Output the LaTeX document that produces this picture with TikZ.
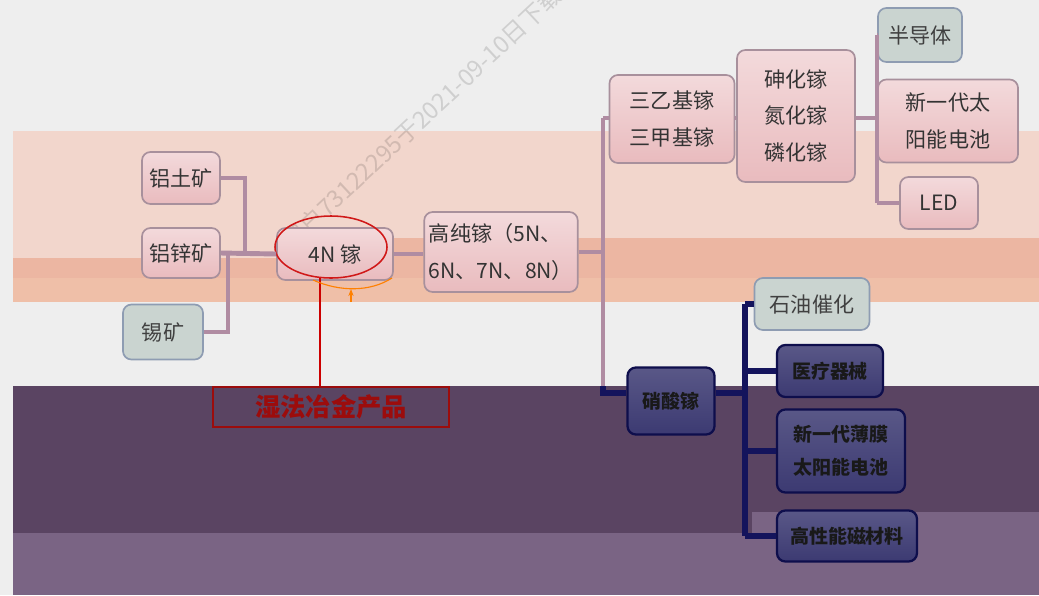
\documentclass[tikz,border=0pt]{standalone}
\usepackage{fontspec}
\usepackage{tikz}
\usetikzlibrary{shapes.geometric,arrows.meta}
\newfontfamily\cjk{Noto Sans CJK SC}
\definecolor{bgGrey}{HTML}{EEEEEE}
\definecolor{bandPink}{HTML}{F2D6CC}
\definecolor{bandSalmon}{HTML}{ECB6A2}
\definecolor{bandPeach}{HTML}{EFBFA8}
\definecolor{bandPlum}{HTML}{5A4462}
\definecolor{bandLilac}{HTML}{7A6484}
\definecolor{linkMauve}{HTML}{B08CA2}
\definecolor{linkNavy}{HTML}{14145C}
\definecolor{boxPink}{HTML}{E9BBBE}
\definecolor{boxEdge}{HTML}{A8909C}
\definecolor{boxGreen}{HTML}{CAD4D0}
\definecolor{boxSteel}{HTML}{8E9CB2}
\definecolor{boxInk}{HTML}{3C3A72}
\definecolor{boxNavy}{HTML}{0E0E4C}
\definecolor{wetRed}{HTML}{9C0C0C}

\begin{document}
\begin{tikzpicture}[x=0.025cm, y=-0.025cm,
    font=\cjk\fontsize{15}{26}\selectfont,
    pinkbox/.style={rectangle, rounded corners=6pt, draw=boxEdge, line width=1.2pt, top color=boxPink!55!white, bottom color=boxPink, text=black!80, align=center},
    greybox/.style={rectangle, rounded corners=6pt, draw=boxSteel, line width=1.2pt, fill=boxGreen, text=black!75, align=center},
    navybox/.style={rectangle, rounded corners=6pt, draw=boxNavy, line width=1.6pt, top color=boxInk!85!white, bottom color=boxInk, text=black!90, font=\cjk\bfseries\fontsize{13.5}{23.5}\selectfont, align=center},
    link/.style={draw=linkMauve, line width=3.5pt},
    navylink/.style={draw=linkNavy, line width=4pt}]

    % background bands
    \fill[bgGrey] (0,0) rectangle (1039,595);
    \fill[bandPink] (13,131) rectangle (1039,258);
    \fill[bandSalmon] (380,238) rectangle (1039,258);
    \fill[bandSalmon] (13,258) rectangle (1039,278);
    \fill[bandPeach] (13,278) rectangle (1039,302);
    \fill[bandPlum] (13,386) rectangle (1039,533);
    \fill[bandLilac] (13,533) rectangle (1039,595);
    \fill[bandLilac] (752,512) rectangle (1039,533);
    \useasboundingbox (0,0) rectangle (1039,595);

    \node (mark) at (422,118) [rotate=43, text=black, opacity=0.13, font=\cjk\fontsize{17}{20}\selectfont] {用户73122295于2021-09-10日下载};

    % ores
    \node (bauxite) at (181,178) [pinkbox, minimum width=1.95cm, minimum height=1.3cm] {铝土矿};
    \node (zincore) at (181,253) [pinkbox, minimum width=1.95cm, minimum height=1.25cm] {铝锌矿};
    \node (tinore) at (163,332) [greybox, minimum width=2.0cm, minimum height=1.375cm] {锡矿};

    % gallium
    \node (ga4n) at (335,254) [pinkbox, minimum width=2.9cm, minimum height=1.3cm] {4N 镓};
    \node (ring) at (331,247) [ellipse, draw={rgb,255:red,208;green,24;blue,24}, line width=1.1pt, minimum width=2.8cm, minimum height=1.55cm, inner sep=0pt] {};
    \node (gapure) at (501,252) [pinkbox, minimum width=3.8cm, minimum height=2.0cm, align=left] {高纯镓（5N、\\6N、7N、8N）};
    \node (wet) at (331,407) [rectangle, draw=wetRed, line width=1.6pt, minimum width=5.9cm, minimum height=1.0cm, text=wetRed, font=\cjk\bfseries\fontsize{18}{20}\selectfont] {湿法冶金产品};

    % upper branch
    \node (alkyl) at (672,119) [pinkbox, minimum width=3.125cm, minimum height=2.2cm] {三乙基镓\\三甲基镓};
    \node (compound) at (796,116) [pinkbox, minimum width=2.95cm, minimum height=3.3cm] {砷化镓\\氮化镓\\磷化镓};
    \node (semi) at (920,35) [greybox, minimum width=2.1cm, minimum height=1.35cm] {半导体};
    \node (solar) at (948,121) [pinkbox, minimum width=3.5cm, minimum height=2.075cm] {新一代太\\阳能电池};
    \node (led) at (939,203) [pinkbox, minimum width=1.95cm, minimum height=1.3cm] {LED};

    % lower branch
    \node (nitrate) at (671,401) [navybox, minimum width=2.175cm, minimum height=1.675cm] {硝酸镓};
    \node (petro) at (812,304) [greybox, minimum width=2.875cm, minimum height=1.3cm] {石油催化};
    \node (medical) at (830,371) [navybox, minimum width=2.65cm, minimum height=1.3cm] {医疗器械};
    \node (film) at (841,451) [navybox, minimum width=3.2cm, minimum height=2.075cm] {新一代薄膜\\太阳能电池};
    \node (magnet) at (847,536) [navybox, minimum width=3.5cm, minimum height=1.275cm] {高性能磁材料};

    \coordinate (orejoin) at (245,253);
    \coordinate (tinjoin) at (228,253);
    \coordinate (trunk) at (603,252);
    \coordinate (trunktop) at (603,118);
    \coordinate (trunkmid) at (603,386);
    \coordinate (trunkbot) at (603,393);
    \coordinate (usetop) at (877,35);
    \coordinate (usebot) at (877,203);
    \coordinate (lowtop) at (745,304);
    \coordinate (lowbot) at (745,536);
    \coordinate (wetfoot) at (351,302);

    \draw [link] (bauxite.east) -| (orejoin);
    \draw [link] (tinore.east) -| (tinjoin);
    \draw [link] (zincore.east) -- (ga4n.west);
    \draw [link] (ga4n.east) -- (ga4n.east -| gapure.west);
    \draw [link] (gapure.east |- trunk) -- (trunk);
    \draw [link] (trunktop) -- (trunkmid);
    \draw [link] (trunktop) -- (alkyl.west |- trunktop);
    \draw [link] (alkyl.east |- trunktop) -- (compound.west |- trunktop);
    \draw [link] (compound.east |- trunktop) -- (usetop |- trunktop);
    \draw [link] (usetop) -- (usebot);
    \draw [link] (usetop) -- (semi.west);
    \draw [link] (solar.west -| usetop) -- (solar.west);
    \draw [link] (usebot) -- (led.west);

    \draw [navylink] (trunkmid) -- (trunkbot) -- (nitrate.west |- trunkbot);
    \draw [navylink] (nitrate.east |- trunkbot) -- (trunkbot -| lowtop);
    \draw [navylink] (lowtop) -- (lowbot);
    \draw [navylink] (lowtop) -- (petro.west);
    \draw [navylink] (medical.west -| lowtop) -- (medical.west);
    \draw [navylink] (film.west -| lowtop) -- (film.west);
    \draw [navylink] (lowbot) -- (magnet.west);

    \draw [red!80!black, line width=1.6pt] (ring.250) -- (ring.250 |- wet.north);
    \draw [orange, line width=0.8pt] (313,280) .. controls (340,292) and (370,292) .. (392,278);
    \draw [orange, line width=0.8pt, -{Stealth[length=5pt]}] (wetfoot) -- ++(0,-13);
\end{tikzpicture}
\end{document}
